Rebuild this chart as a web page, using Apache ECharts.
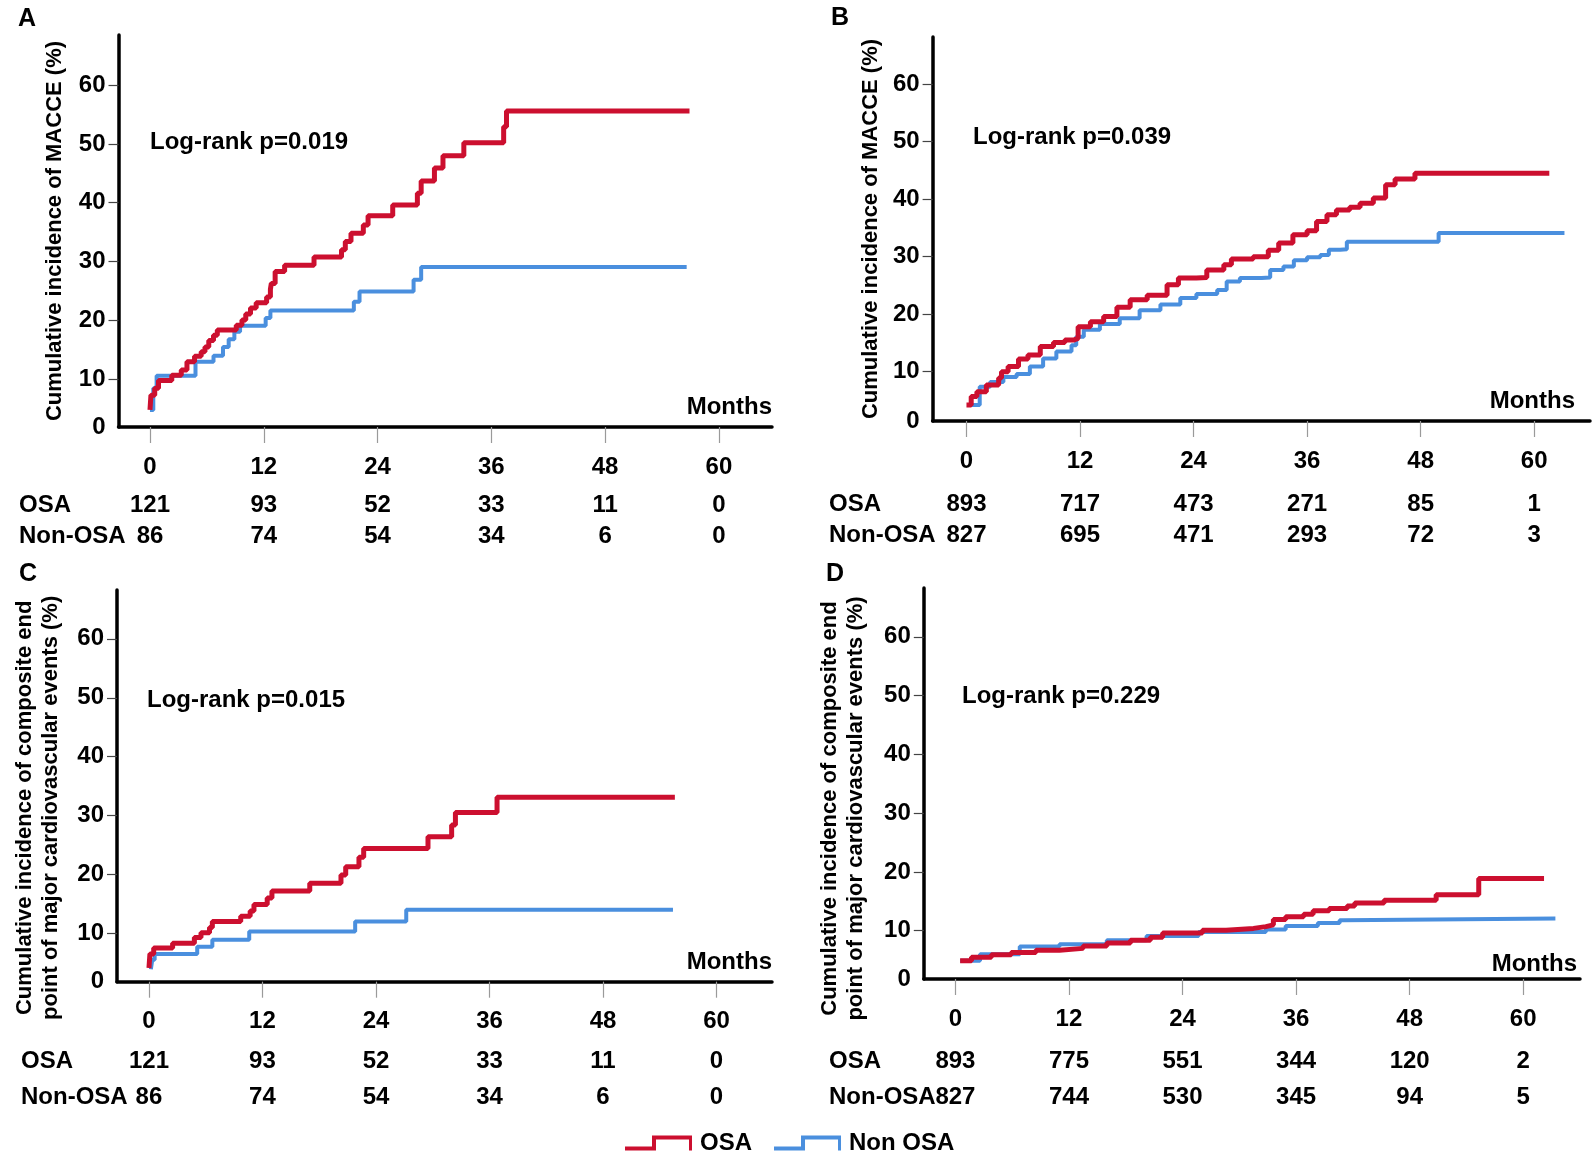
<!DOCTYPE html>
<html>
<head>
<meta charset="utf-8">
<script src="https://cdn.jsdelivr.net/npm/echarts@6/dist/echarts.min.js"></script>
<style>
html,body{margin:0;padding:0;background:#fff;}
#chart{width:1593px;height:1162px;}
</style>
</head>
<body>
<div id="chart"></div>
<script>
// ---------------- DATA ----------------
const tickMonths = [0, 12, 24, 36, 48, 60];
const yTickValues = [10, 20, 30, 40, 50, 60];

// Panel A: MACCE (small cohort)
const A_OSA_t = [0, 0.1, 0.5, 0.9, 2.3, 3.3, 3.9, 4.7, 5.4, 5.8, 6.2, 6.7, 7.1, 9.1, 9.7, 10.1, 10.6, 11.2, 12.3, 12.7, 12.8, 13.2, 14.2, 17.3, 20.2, 20.6, 21.2, 22.5, 23.0, 25.6, 28.2, 28.6, 30.0, 30.9, 33.1, 37.3, 37.6, 56.9];
const A_OSA_v = [4.8, 7.3, 8.5, 9.8, 10.7, 11.6, 13.0, 13.9, 14.7, 15.5, 16.6, 17.5, 18.4, 19.2, 20.1, 21.1, 22.1, 23.0, 24.0, 25.3, 26.3, 28.3, 29.4, 30.8, 32.0, 33.4, 34.8, 36.2, 37.8, 39.6, 41.6, 43.7, 45.9, 48.0, 50.2, 52.9, 55.6, 55.6];
const A_NON_t = [0, 0.35, 0.7, 4.8, 6.7, 7.7, 8.3, 8.9, 9.5, 12.2, 12.7, 21.5, 22.1, 27.8, 28.6, 56.6];
const A_NON_v = [4.8, 8.5, 10.6, 13.0, 14.0, 15.5, 16.8, 18.1, 19.1, 20.4, 21.7, 23.2, 24.9, 26.9, 29.1, 29.1];

// Panel B: MACCE (large cohort)
const B_OSA_t = [0, 0.5, 1.1, 2.1, 3.4, 3.7, 4.4, 5.5, 6.5, 7.8, 9.2, 10.4, 11.3, 11.8, 13.1, 14.5, 15.9, 17.3, 19.1, 21.2, 22.4, 24.3, 25.4, 27.2, 28.0, 30.3, 31.9, 33.0, 34.5, 36.0, 37.0, 38.1, 39.1, 40.5, 41.6, 43.0, 44.3, 45.3, 47.4, 61.6];
const B_OSA_v = [4.2, 5.7, 6.5, 7.7, 8.9, 10.0, 10.9, 12.2, 12.9, 14.4, 15.1, 15.5, 15.8, 17.8, 18.7, 19.6, 21.2, 22.5, 23.3, 25.1, 26.3, 26.4, 27.7, 28.6, 29.6, 30.0, 31.1, 32.4, 33.8, 34.5, 36.1, 37.3, 38.1, 38.6, 39.3, 40.2, 42.5, 43.5, 44.5, 44.5];
const B_NON_t = [0.2, 1.4, 2.5, 3.9, 5.3, 6.7, 8.1, 9.5, 11.1, 11.6, 12.4, 14.1, 16.2, 18.3, 20.5, 22.6, 24.3, 26.5, 27.5, 28.9, 31.2, 32.1, 33.5, 34.6, 36.0, 37.4, 38.3, 39.5, 40.2, 49.9, 63.2];
const B_NON_v = [4.2, 7.4, 8.2, 9.1, 9.6, 10.9, 12.3, 13.5, 14.6, 16.1, 17.3, 18.3, 19.3, 20.7, 21.7, 22.8, 23.5, 24.2, 25.7, 26.3, 26.4, 27.7, 28.3, 29.4, 29.9, 30.3, 31.2, 31.3, 32.6, 34.1, 34.1];

// Panel C: composite end point (small cohort)
const C_OSA_t = [0, 0.1, 0.5, 2.5, 4.8, 5.5, 6.4, 6.7, 9.7, 10.7, 11.1, 12.5, 13.0, 17.0, 20.3, 20.8, 22.2, 22.7, 29.5, 32.0, 32.4, 36.8, 55.6];
const C_OSA_v = [4.1, 6.5, 7.5, 8.3, 9.3, 10.1, 11.0, 12.0, 12.9, 13.8, 14.9, 16.0, 17.2, 18.5, 19.9, 21.3, 22.9, 24.4, 26.4, 28.4, 30.5, 33.1, 33.1];
const C_NON_t = [0.2, 0.35, 0.6, 5.1, 6.7, 10.6, 21.8, 27.2, 55.4];
const C_NON_v = [3.9, 5.5, 6.5, 7.7, 8.9, 10.3, 12.0, 14.0, 14.0];

// Panel D: composite end point (large cohort)
const D_OSA_t = [0.5, 1.7, 3.8, 5.9, 8.5, 11.0, 13.5, 16.0, 18.5, 20.6, 21.9, 26.1, 28.6, 31.5, 32.8, 33.6, 34.9, 36.8, 37.8, 39.5, 41.4, 42.2, 45.3, 50.8, 55.3, 62.2];
const D_OSA_v = [4.9, 5.5, 5.9, 6.3, 6.7, 7.0, 7.4, 7.9, 8.4, 8.9, 9.6, 10.1, 10.4, 10.7, 11.0, 11.9, 12.4, 12.8, 13.4, 13.8, 14.2, 14.7, 15.2, 16.1, 18.9, 18.9];
const D_NON_t = [0.5, 2.6, 6.8, 11.0, 16.0, 20.2, 25.7, 32.8, 34.9, 38.3, 40.6, 41.0, 63.4];
const D_NON_v = [4.9, 6.0, 7.3, 7.7, 8.4, 9.1, 9.8, 10.2, 10.8, 11.3, 11.8, 12.1, 12.1];

// Numbers at risk
const riskA_OSA = [121, 93, 52, 33, 11, 0];
const riskA_NON = [86, 74, 54, 34, 6, 0];
const riskB_OSA = [893, 717, 473, 271, 85, 1];
const riskB_NON = [827, 695, 471, 293, 72, 3];
const riskC_OSA = [121, 93, 52, 33, 11, 0];
const riskC_NON = [86, 74, 54, 34, 6, 0];
const riskD_OSA = [893, 775, 551, 344, 120, 2];
const riskD_NON = [827, 744, 530, 345, 94, 5];

const rowNames = ['Non-OSA', 'OSA'];
const seriesNames = ['OSA', 'Non OSA'];
const titleAB = 'Cumulative incidence of MACCE (%)';
const titleCD = 'Cumulative incidence of composite end\npoint of major cardiovascular events (%)';
const pTexts = ['Log-rank p=0.019', 'Log-rank p=0.039', 'Log-rank p=0.015', 'Log-rank p=0.229'];
const panelLetters = ['A', 'B', 'C', 'D'];

// ---------------- LAYOUT / STYLE ----------------
const FONT = '"Liberation Sans", Arial, Helvetica, sans-serif';
const RED = '#CC0F2F';
const BLUE = '#4A8FDE';
const STEP_ICON = 'path://M0,11 L27,11 L27,0 L67,0 L67,15 L64,15 L64,4 L31,4 L31,15 L0,15 Z';

const panels = [
  {letter: [27, 19], grid: {left: 118.5, top: 35, width: 653.5, height: 392}, x: [-3.32, 65.6], y: [1.9, 68.5],
   risk: {top: 489.5, height: 62}, rowMargin: 99.5, nameGap: 51, namePad: 0, pText: [150, 142], months: [772, 407],
   osa: [A_OSA_t, A_OSA_v], non: [A_NON_t, A_NON_v], rOsa: riskA_OSA, rNon: riskA_NON, title: titleAB},
  {letter: [840, 18], grid: {left: 932.6, top: 37, width: 657.4, height: 384}, x: [-3.58, 65.9], y: [1.43, 68.2],
   risk: {top: 488.5, height: 62}, rowMargin: 103.6, nameGap: 48.5, namePad: 0, pText: [973, 137], months: [1575, 401],
   osa: [B_OSA_t, B_OSA_v], non: [B_NON_t, B_NON_v], rOsa: riskB_OSA, rNon: riskB_NON, title: titleAB},
  {letter: [28, 574], grid: {left: 117, top: 590, width: 655, height: 391.7}, x: [-3.38, 65.87], y: [1.78, 68.3],
   risk: {top: 1043, height: 72}, rowMargin: 96, nameGap: 53, namePad: 44, pText: [147, 700], months: [772, 962],
   osa: [C_OSA_t, C_OSA_v], non: [C_NON_t, C_NON_v], rOsa: riskC_OSA, rNon: riskC_NON, title: titleCD},
  {letter: [835, 574], grid: {left: 923.8, top: 588, width: 656.2, height: 391}, x: [-3.34, 66.0], y: [1.79, 68.3],
   risk: {top: 1043, height: 72}, rowMargin: 94.8, nameGap: 55, namePad: 50, pText: [962, 696], months: [1577, 964],
   osa: [D_OSA_t, D_OSA_v], non: [D_NON_t, D_NON_v], rOsa: riskD_OSA, rNon: riskD_NON, title: titleCD}
];

const zip = (t, v) => t.map((ti, i) => [ti, v[i]]);
const txt = (size) => ({fontFamily: FONT, fontWeight: 'bold', fontSize: size, color: '#000'});

const grids = [], xAxes = [], yAxes = [], series = [], graphics = [];

panels.forEach((p, i) => {
  const gMain = grids.length;
  grids.push(Object.assign({containLabel: false}, p.grid));
  const gRisk = grids.length;
  grids.push({left: p.grid.left, width: p.grid.width, top: p.risk.top, height: p.risk.height, containLabel: false});

  // main axes
  xAxes.push({
    gridIndex: gMain, type: 'value', min: p.x[0], max: p.x[1],
    axisLine: {show: true, onZero: false, lineStyle: {color: '#000', width: 3.5}},
    axisTick: {show: true, customValues: tickMonths, length: 16, lineStyle: {color: '#9a9a9a', width: 1.2}},
    axisLabel: Object.assign({customValues: tickMonths, margin: 28}, txt(24)),
    splitLine: {show: false}
  });
  const yMin = p.y[0];
  yAxes.push({
    gridIndex: gMain, type: 'value', min: p.y[0], max: p.y[1],
    axisLine: {show: true, onZero: false, lineStyle: {color: '#000', width: 3.5}},
    axisTick: {show: true, customValues: yTickValues, length: 10, lineStyle: {color: '#444', width: 1.2}},
    axisLabel: Object.assign({customValues: [yMin].concat(yTickValues), margin: 13,
      formatter: v => (v < 5 ? '0' : String(Math.round(v)))}, txt(24)),
    splitLine: {show: false},
    name: p.title, nameLocation: 'middle', nameGap: p.nameGap, nameRotate: 90,
    nameTextStyle: Object.assign({lineHeight: 26, padding: [0, p.namePad, 0, 0]}, txt(22))
  });
  // risk table axes
  xAxes.push({gridIndex: gRisk, type: 'value', min: p.x[0], max: p.x[1], show: false});
  yAxes.push({
    gridIndex: gRisk, type: 'category', data: rowNames,
    axisLine: {show: false}, axisTick: {show: false}, splitLine: {show: false},
    axisLabel: Object.assign({align: 'left', margin: p.rowMargin, interval: 0, hideOverlap: false}, txt(24))
  });

  const xMain = xAxes.length - 2, yMain = yAxes.length - 2;
  const xRisk = xAxes.length - 1, yRisk = yAxes.length - 1;

  series.push({
    type: 'line', name: seriesNames[1], xAxisIndex: xMain, yAxisIndex: yMain, step: 'end',
    showSymbol: false, symbol: 'none', data: zip(p.non[0], p.non[1]), z: 2,
    lineStyle: {color: BLUE, width: 4}, itemStyle: {color: BLUE}
  });
  series.push({
    type: 'line', name: seriesNames[0], xAxisIndex: xMain, yAxisIndex: yMain, step: 'end',
    showSymbol: false, symbol: 'none', data: zip(p.osa[0], p.osa[1]), z: 3,
    lineStyle: {color: RED, width: 5}, itemStyle: {color: RED}
  });
  [['OSA', p.rOsa], ['Non-OSA', p.rNon]].forEach(([row, arr]) => {
    series.push({
      type: 'scatter', name: 'risk-' + row, xAxisIndex: xRisk, yAxisIndex: yRisk, silent: true,
      symbolSize: 1, itemStyle: {color: '#fff', opacity: 0},
      data: tickMonths.map((t, k) => [t, row, arr[k]]),
      label: Object.assign({show: true, position: 'inside', formatter: q => String(q.value[2]),
        textBorderWidth: 0, textBorderColor: 'none', opacity: 1}, txt(24))
    });
  });

  graphics.push({type: 'text', x: p.letter[0], y: p.letter[1],
    style: {text: panelLetters[i], font: 'bold 25px ' + FONT, fill: '#000', textAlign: 'center', textVerticalAlign: 'middle'}});
  graphics.push({type: 'text', x: p.pText[0], y: p.pText[1],
    style: {text: pTexts[i], font: 'bold 24px ' + FONT, fill: '#000', textAlign: 'left', textVerticalAlign: 'middle'}});
  graphics.push({type: 'text', x: p.months[0], y: p.months[1],
    style: {text: 'Months', font: 'bold 24px ' + FONT, fill: '#000', textAlign: 'right', textVerticalAlign: 'middle'}});
});

const chart = echarts.init(document.getElementById('chart'), null, {renderer: 'canvas'});
chart.setOption({
  backgroundColor: '#fff',
  animation: false,
  grid: grids,
  xAxis: xAxes,
  yAxis: yAxes,
  series: series,
  graphic: graphics,
  legend: {
    left: 625, top: 1131, padding: 0, itemWidth: 67, itemHeight: 15, itemGap: 22, selectedMode: false,
    data: [{name: 'OSA', icon: STEP_ICON}, {name: 'Non OSA', icon: STEP_ICON}],
    textStyle: Object.assign({padding: [0, 0, 0, 3]}, txt(24))
  }
});
</script>
</body>
</html>
